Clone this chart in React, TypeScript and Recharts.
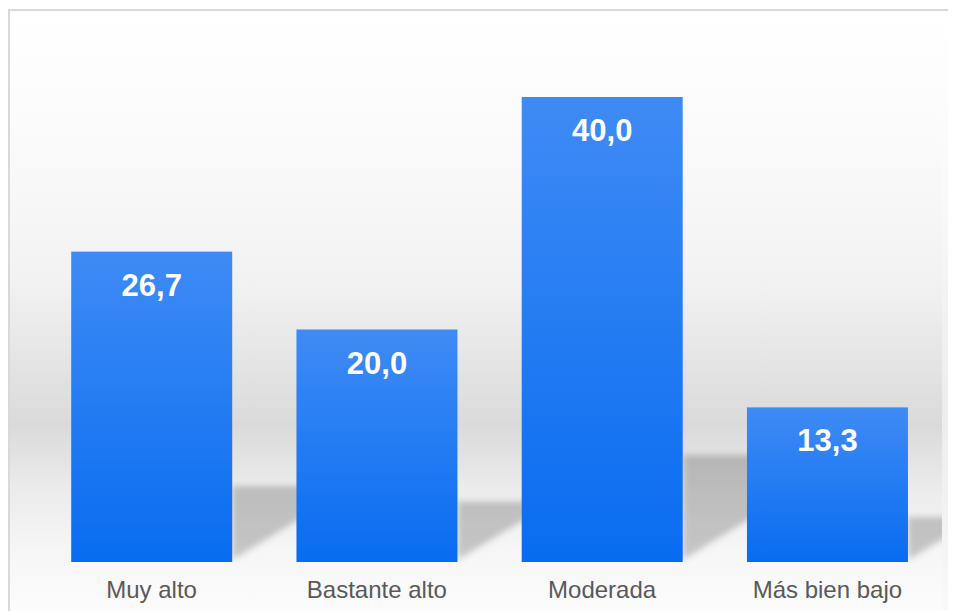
import { BarChart, Bar, XAxis, YAxis, LabelList } from 'recharts';

const categories = ['Muy alto', 'Bastante alto', 'Moderada', 'Más bien bajo'];
const values = [26.7, 20.0, 40.0, 13.3];

const data = categories.map((name, i) => ({ name, value: values[i] }));

const formatValue = (v: any) => Number(v).toFixed(1).replace('.', ',');

// bar with a soft slanted shadow cast to the right
const ShadowBar = (props: any) => {
  const { x, y, width, height } = props;
  if (!height || height <= 0) return null;
  const base = y + height;
  const sh = height * 0.2 + 14;
  const dx = sh * 1.6;
  const xr = x + width;
  return (
    <g>
      <polygon
        points={`${xr},${base - 2} ${xr},${base - sh} ${xr + dx},${base - sh}`}
        fill="#000"
        fillOpacity={0.2}
        filter="url(#shadowBlur)"
      />
      <rect x={x} y={y} width={width} height={height} fill="url(#barGrad)" />
    </g>
  );
};

const App = () => {
  return (
    <div style={{ paddingTop: 1 }}>
      <div
        style={{
          width: 1000,
          height: 640,
          border: '2px solid #d9d9d9',
          background:
            'linear-gradient(to bottom, #ffffff 0%, #f9f9f9 30%, #ececec 62%, #f3f3f3 80%, #fcfcfc 100%)',
        }}
      >
        <div
          style={{
            width: 932,
            height: 600,
            background:
              'linear-gradient(to bottom, #ffffff 0%, #fbfbfb 20%, #f2f2f2 45%, #dadada 69%, #ececec 80%, #f6f6f6 90%, #fcfcfc 100%)',
          }}
        >
          <BarChart
            width={932}
            height={600}
            data={data}
            margin={{ top: 86, right: 2, left: 29, bottom: 0 }}
            barCategoryGap="14.3%"
          >
            <defs>
              <linearGradient id="barGrad" x1="0" y1="0" x2="0" y2="1">
                <stop offset="0%" stopColor="#3f8bf5" />
                <stop offset="100%" stopColor="#086cf0" />
              </linearGradient>
              <filter id="shadowBlur" x="-20%" y="-20%" width="140%" height="140%">
                <feGaussianBlur stdDeviation="3" />
              </filter>
            </defs>
            <XAxis
              dataKey="name"
              axisLine={false}
              tickLine={false}
              tickSize={0}
              tickMargin={19}
              height={49}
              interval={0}
              tick={{ fill: '#595959', fontSize: 24, fontFamily: 'Liberation Sans, Arial, sans-serif' }}
            />
            <YAxis hide domain={[0, 40]} />
            <Bar dataKey="value" shape={<ShadowBar />} isAnimationActive={false}>
              <LabelList
                dataKey="value"
                position="insideTop"
                offset={22}
                formatter={formatValue}
                fill="#ffffff"
                fontSize={31}
                fontWeight="bold"
                fontFamily="Liberation Sans, Arial, sans-serif"
              />
            </Bar>
          </BarChart>
        </div>
      </div>
    </div>
  );
};

export default App;
